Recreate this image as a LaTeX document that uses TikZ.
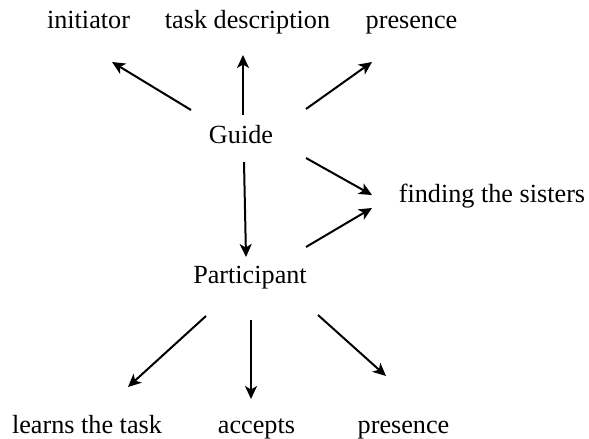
\documentclass[tikz,border=0pt]{standalone}
\usepackage{fontspec}
\setmainfont{Liberation Serif}
\usetikzlibrary{arrows.meta}
\begin{document}
\begin{tikzpicture}[x=1pt,y=-1pt,
  lbl/.style={anchor=base,inner sep=0pt,font=\fontsize{26.2}{31}\selectfont},
  arr/.style={line width=2pt,-{Stealth[length=13pt,width=12pt,inset=3.5pt]}}]
\useasboundingbox (0,0) rectangle (589,439);
\node[lbl] (init) at (88.5,28) {initiator};
\node[lbl] (task) at (247.5,28) {task description};
\node[lbl] (pres1) at (411.5,28) {presence};
\node[lbl] (guide) at (241,143) {Guide};
\node[lbl] (find) at (492,202) {finding the sisters};
\node[lbl] (part) at (250,283) {Participant};
\node[lbl] (learn) at (87,433) {learns the task};
\node[lbl] (acc) at (256.5,433) {accepts};
\node[lbl] (pres2) at (403.5,433) {presence};
% arrow end points
\coordinate (a1s) at (191,110); \coordinate (a1e) at (112,62);
\coordinate (a2s) at (243,115); \coordinate (a2e) at (243,55);
\coordinate (a3s) at (306,109); \coordinate (a3e) at (372,62);
\coordinate (a4s) at (244,162); \coordinate (a4e) at (246,257);
\coordinate (a5s) at (306,158); \coordinate (a5e) at (372,195);
\coordinate (a6s) at (306,247); \coordinate (a6e) at (372,208);
\coordinate (a7s) at (206,316); \coordinate (a7e) at (128,387);
\coordinate (a8s) at (251,320); \coordinate (a8e) at (251,399);
\coordinate (a9s) at (318,315); \coordinate (a9e) at (386,376);
\draw[arr] (a1s) -- (a1e);
\draw[arr] (a2s) -- (a2e);
\draw[arr] (a3s) -- (a3e);
\draw[arr] (a4s) -- (a4e);
\draw[arr] (a5s) -- (a5e);
\draw[arr] (a6s) -- (a6e);
\draw[arr] (a7s) -- (a7e);
\draw[arr] (a8s) -- (a8e);
\draw[arr] (a9s) -- (a9e);
\end{tikzpicture}
\end{document}
